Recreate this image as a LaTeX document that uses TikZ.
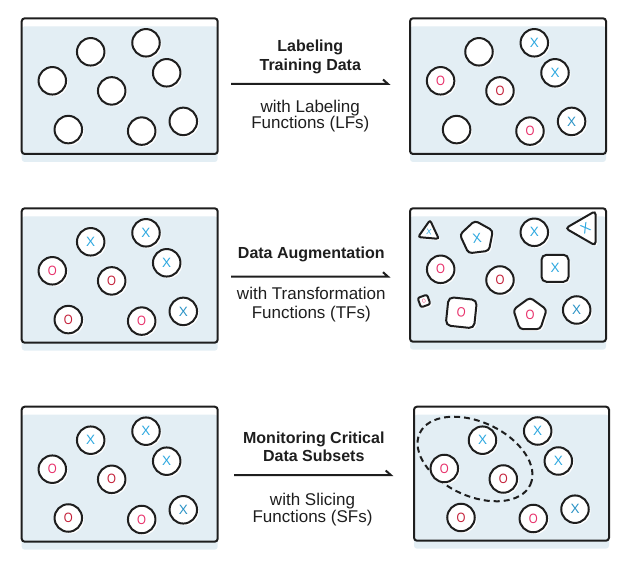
\documentclass[tikz,border=0pt]{standalone}
\usepackage{fontspec}
\setmainfont{Liberation Sans}
\usetikzlibrary{shapes.geometric,shadows}
\definecolor{ink}{HTML}{1E1E1E}
\definecolor{panelbg}{HTML}{E3EEF4}
\definecolor{xblue}{HTML}{2DA8E0}
\definecolor{xblue2}{HTML}{2B93C6}
\definecolor{opink}{HTML}{E8306A}
\definecolor{ored}{HTML}{C42039}
\newcommand\ringO{\scalebox{0.85}[1]{O}}
\tikzset{
  panel/.style={draw=ink, line width=2pt, rounded corners=3pt, minimum width=196pt,
    minimum height=#1, anchor=north west, inner sep=0pt, outer sep=0pt,
    preaction={fill=white}, preaction={fill=panelbg, transform canvas={yshift=-8pt}}},
  shp/.style={draw=ink, line width=2pt, fill=white, inner sep=0pt,
    drop shadow={fill=white, opacity=1, shadow xshift=1.8pt, shadow yshift=-1.8pt}},
  dot/.style={shp, circle, minimum size=27.5pt},
  glyph/.style={font=\fontsize{13.5}{14}\selectfont},
  xd/.style={dot, glyph, text=xblue},
  xdd/.style={dot, glyph, text=xblue2},
  od/.style={dot, glyph, text=opink},
  rd/.style={dot, glyph, text=ored},
  poly/.style={shp, regular polygon, regular polygon sides=#1, rounded corners=3.5pt},
  sqr/.style={shp, rectangle, rounded corners=5pt},
  flow/.style={draw=ink, line width=2pt},
  title/.style={font=\fontsize{16}{19}\selectfont\bfseries, text=ink, anchor=base, inner sep=0pt},
  sub/.style={font=\fontsize{17}{19}\selectfont, text=ink, anchor=base, inner sep=0pt},
  slice/.style={draw=ink, line width=2pt, dash pattern=on 6pt off 4pt, ellipse, inner sep=0pt}
}
\begin{document}
\begin{tikzpicture}[x=1pt,y=-1pt]
\useasboundingbox (0,0) rectangle (627,561);

% panels
\node[panel=135.7pt] (P1) at (21.7,18.3) {};
\node[panel=135.7pt] (P2) at (410,18.3) {};
\node[panel=134.4pt] (P3) at (21.7,208.3) {};
\node[panel=133.4pt] (P4) at (410,208.3) {};
\node[panel=135pt] (P5) at (21.7,406.7) {};
\node[panel=134pt,minimum width=195pt] (P6) at (414,406.7) {};

% row 1 left
\begin{scope}[shift={(21.7,18.3)}]
\node[dot] (a1) at (69,33.5) {};
\node[dot] (a2) at (124.3,24.5) {};
\node[dot] (a3) at (30.6,62.5) {};
\node[dot] (a4) at (145,54.5) {};
\node[dot] (a5) at (90,72.6) {};
\node[dot] (a6) at (46.6,111.3) {};
\node[dot] (a7) at (120,112.8) {};
\node[dot] (a8) at (161.6,103.1) {};
\end{scope}

% row 1 right
\begin{scope}[shift={(410,18.3)}]
\node[dot] (b1) at (69,33.5) {};
\node[xd] (b2) at (124.3,24.5) {X};
\node[od] (b3) at (30.6,62.5) {\ringO};
\node[xd] (b4) at (145,54.5) {X};
\node[rd] (b5) at (90,72.6) {\ringO};
\node[dot] (b6) at (46.6,111.3) {};
\node[od] (b7) at (120,112.8) {\ringO};
\node[xdd] (b8) at (161.6,103.1) {X};
\end{scope}

% row 2 left
\begin{scope}[shift={(21.7,208.3)}]
\node[xd] (c1) at (69,33.5) {X};
\node[xd] (c2) at (124.3,24.5) {X};
\node[od] (c3) at (30.6,62.5) {\ringO};
\node[xd] (c4) at (145,54.5) {X};
\node[rd] (c5) at (90,72.6) {\ringO};
\node[rd] (c6) at (46.6,111.3) {\ringO};
\node[od] (c7) at (120,112.8) {\ringO};
\node[xdd] (c8) at (161.6,103.1) {X};
\end{scope}

% row 2 right (augmented)
\node[poly=3, minimum size=24pt, rounded corners=2.5pt, rotate=-5, text=xblue,
  font=\fontsize{8}{9}\selectfont] (d1) at (429,232) {X};
\node[poly=5, minimum size=35pt, rotate=7, glyph, text=xblue] (d2) at (477,238) {X};
\node[xd] (d3) at (534.3,232.3) {X};
\node[poly=3, minimum size=40pt, rotate=90, glyph, text=xblue] (d4) at (585.5,228.3) {\rotatebox{-60}{X}};
\node[od] (d5) at (440.7,269.3) {\ringO};
\node[sqr, minimum size=27pt, glyph, text=xblue] (d6) at (555,268.3) {X};
\node[rd] (d7) at (500,280) {\ringO};
\node[sqr, minimum size=10pt, rounded corners=2pt, rotate=20, text=opink,
  font=\fontsize{5.5}{6}\selectfont] (d8) at (424,301) {\ringO};
\node[sqr, minimum size=28.5pt, rotate=-6, glyph, text=opink] (d9) at (461.3,312.7) {\ringO};
\node[poly=5, minimum size=35pt, glyph, text=opink] (d10) at (530,315) {\ringO};
\node[xdd] (d11) at (576.7,310) {X};

% row 3 left
\begin{scope}[shift={(21.7,406.7)}]
\node[xd] (e1) at (69,33.5) {X};
\node[xd] (e2) at (124.3,24.5) {X};
\node[od] (e3) at (30.6,62.5) {\ringO};
\node[xd] (e4) at (145,54.5) {X};
\node[rd] (e5) at (90,72.6) {\ringO};
\node[rd] (e6) at (46.6,111.3) {\ringO};
\node[od] (e7) at (120,112.8) {\ringO};
\node[xdd] (e8) at (161.6,103.1) {X};
\end{scope}

% row 3 right (slice)
\node[slice, minimum width=122pt, minimum height=74pt, rotate=-25] (sl) at (475,459) {};
\begin{scope}[shift={(414,406.7)}]
\node[xd] (f1) at (68.5,33.5) {X};
\node[xd] (f2) at (123.7,24.3) {X};
\node[od] (f3) at (30.3,61.8) {\ringO};
\node[xd] (f4) at (144.3,54.3) {X};
\node[rd] (f5) at (89.3,72.3) {\ringO};
\node[rd] (f6) at (47,110.8) {\ringO};
\node[od] (f7) at (119.3,111.8) {\ringO};
\node[xdd] (f8) at (161,102.5) {X};
\end{scope}

% arrows
\coordinate (s1) at (231,84);   \coordinate (t1) at (388,84);
\coordinate (s2) at (231,276.7); \coordinate (t2) at (388,276.7);
\coordinate (s3) at (234,475);  \coordinate (t3) at (390.7,475);
\draw[flow] (s1) -- (t1) -- ++(-5,-4.5);
\draw[flow] (s2) -- (t2) -- ++(-5,-4.5);
\draw[flow] (s3) -- (t3) -- ++(-5,-4.5);

% labels
\node[title] (h1a) at (310.3,51.7) {Labeling};
\node[title] (h1b) at (310.3,70.7) {Training Data};
\node[sub] (w1a) at (310.3,112.3) {with Labeling};
\node[sub] (w1b) at (310.3,128.8) {Functions (LFs)};

\node[title] (h2) at (311.3,258.3) {Data Augmentation};
\node[sub] (w2a) at (311.3,300) {with Transformation};
\node[sub] (w2b) at (311.3,318.3) {Functions (TFs)};

\node[title] (h3a) at (313.8,443.3) {Monitoring Critical};
\node[title] (h3b) at (313.8,461.7) {Data Subsets};
\node[sub] (w3a) at (312.5,505) {with Slicing};
\node[sub] (w3b) at (312.5,522.7) {Functions (SFs)};
\end{tikzpicture}
\end{document}
